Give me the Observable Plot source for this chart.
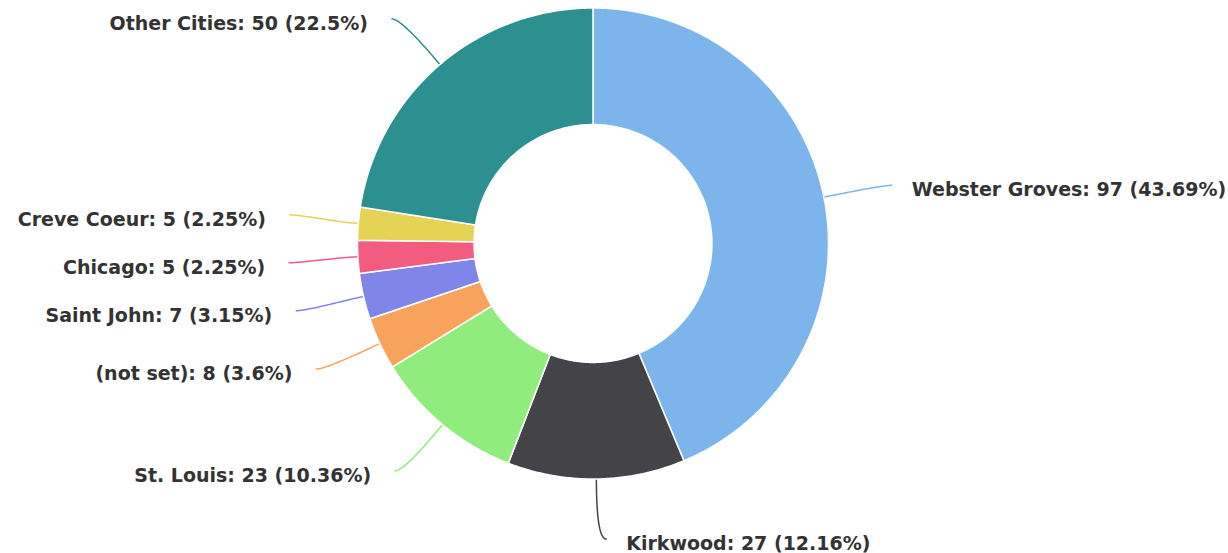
<!DOCTYPE html>
<html>
<head>
<meta charset="utf-8">
<script src="https://cdn.jsdelivr.net/npm/d3@7"></script>
<script src="https://cdn.jsdelivr.net/npm/@observablehq/plot@0.6"></script>
<style>
  html, body { margin: 0; padding: 0; background: #fff; }
  #chart svg { display: block; }
</style>
</head>
<body>
<div id="chart"></div>
<script>
// ---- data ----
const cities = ["Webster Groves", "Kirkwood", "St. Louis", "(not set)", "Saint John", "Chicago", "Creve Coeur", "Other Cities"];
const counts = [97, 27, 23, 8, 7, 5, 5, 50];
const percents = ["43.69", "12.16", "10.36", "3.6", "3.15", "2.25", "2.25", "22.5"];
const colors = ["#7cb5ec", "#434348", "#90ed7d", "#f7a35c", "#8085e9", "#f15c80", "#e4d354", "#2b908f"];

// ---- layout (pixels) ----
const W = 1228, H = 553;
const R = 235.5;            // outer radius in px
const CX = 592.5, CY = 243; // centre in px
const innerRatio = 0.505;
const labelDist = 60;       // label distance from outer edge
const gap = 48;             // minimal vertical label spacing
const u = 1 / R;            // px -> data units

const total = d3.sum(counts);
let acc = 0;
const slices = cities.map((city, i) => {
  const a0 = acc / total * 2 * Math.PI;
  acc += counts[i];
  const a1 = acc / total * 2 * Math.PI;
  return {city, count: counts[i], pct: percents[i], a0, a1, mid: (a0 + a1) / 2};
});

// slice polygons (angle clockwise from 12 o'clock), data units: x right, y up
const polys = [];
for (const s of slices) {
  const n = Math.max(2, Math.ceil((s.a1 - s.a0) / (Math.PI / 360)));
  for (let k = 0; k <= n; k++) {
    const a = s.a0 + (s.a1 - s.a0) * k / n;
    polys.push({city: s.city, x: Math.sin(a), y: Math.cos(a)});
  }
  for (let k = n; k >= 0; k--) {
    const a = s.a0 + (s.a1 - s.a0) * k / n;
    polys.push({city: s.city, x: innerRatio * Math.sin(a), y: innerRatio * Math.cos(a)});
  }
}

// label placement (pixel offsets from centre, y downward)
const rl = R + labelDist;
const labels = slices.map(s => ({
  ...s,
  side: Math.sin(s.mid) >= 0 ? 1 : -1,
  ny: -rl * Math.cos(s.mid)
}));
function dodge(items) {
  items.sort((a, b) => a.ny - b.ny);
  let clusters = items.map(it => ({items: [it]}));
  const mean = c => d3.mean(c.items, d => d.ny);
  const top = c => mean(c) - (c.items.length - 1) * gap / 2;
  const bottom = c => top(c) + (c.items.length - 1) * gap;
  let changed = true;
  while (changed) {
    changed = false;
    for (let k = 0; k < clusters.length - 1; k++) {
      if (top(clusters[k + 1]) - bottom(clusters[k]) < gap) {
        clusters[k] = {items: clusters[k].items.concat(clusters[k + 1].items)};
        clusters.splice(k + 1, 1);
        changed = true;
        break;
      }
    }
  }
  for (const c of clusters) {
    const t = top(c);
    c.items.forEach((it, j) => it.py = t + j * gap);
  }
}
dodge(labels.filter(d => d.side < 0));
dodge(labels.filter(d => d.side > 0));
for (const d of labels) {
  d.px = d.side * (Math.sqrt(Math.max(0, rl * rl - d.py * d.py)) + 9);
  d.tx = (d.px + d.side * (d.side > 0 ? 20 : 24)) * u;
  d.ty = -(d.py + 5) * u;
}

// soft connectors: label end -> break just outside the pie -> landing on the slice
const conns = [];
for (const d of labels) {
  const P0 = [d.px, d.py];
  const P1 = [d.px - d.side * 9, d.py];
  const B = [(R + 8) * Math.sin(d.mid), -(R + 8) * Math.cos(d.mid)];
  const L = [(R - 4) * Math.sin(d.mid), -(R - 4) * Math.cos(d.mid)];
  const C2 = [2 * B[0] - L[0], 2 * B[1] - L[1]];
  const steps = 30;
  for (let k = 0; k <= steps; k++) {
    const t = k / steps, m = 1 - t;
    const x = m * m * m * P0[0] + 3 * m * m * t * P1[0] + 3 * m * t * t * C2[0] + t * t * t * B[0];
    const y = m * m * m * P0[1] + 3 * m * m * t * P1[1] + 3 * m * t * t * C2[1] + t * t * t * B[1];
    conns.push({city: d.city, x: x * u, y: -y * u});
  }
  conns.push({city: d.city, x: L[0] * u, y: -L[1] * u});
}

const labelText = d => `${d.city}: ${d.count} (${d.pct}%)`;
const textStyle = {
  text: labelText,
  fontSize: 19,
  fontWeight: "bold",
  fill: "#333333",
  fontFamily: "DejaVu Sans, sans-serif",
  lineAnchor: "middle"
};

const chart = Plot.plot({
  width: W,
  height: H,
  margin: 0,
  style: {background: "#ffffff", overflow: "visible"},
  x: {domain: [-1, 1], range: [CX - R, CX + R], axis: null},
  y: {domain: [-1, 1], range: [CY + R, CY - R], axis: null},
  color: {domain: cities, range: colors},
  marks: [
    Plot.line(conns, {x: "x", y: "y", z: "city", stroke: "city", strokeWidth: 1.5, curve: "linear", strokeLinejoin: "round", strokeLinecap: "round"}),
    Plot.line(polys, {x: "x", y: "y", z: "city", fill: "city", stroke: "#ffffff", strokeWidth: 1.5, curve: "linear-closed", strokeLinejoin: "round"}),
    Plot.text(labels.filter(d => d.side > 0), {x: "tx", y: "ty", textAnchor: "start", ...textStyle}),
    Plot.text(labels.filter(d => d.side < 0), {x: "tx", y: "ty", textAnchor: "end", ...textStyle})
  ]
});
document.getElementById("chart").appendChild(chart);
</script>
</body>
</html>
